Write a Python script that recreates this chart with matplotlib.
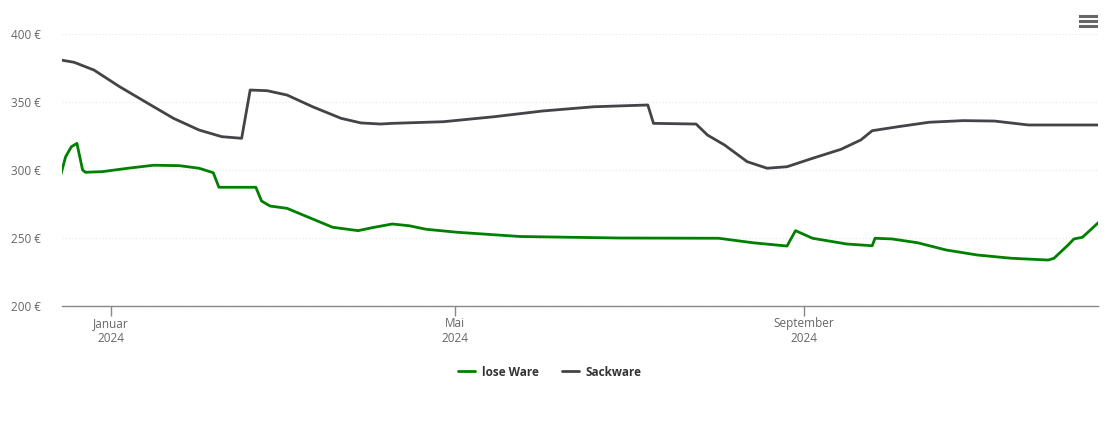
import matplotlib
matplotlib.use("Agg")
import matplotlib.pyplot as plt
import pandas as pd

plt.rcParams['font.family'] = ['Open Sans', 'DejaVu Sans']

# Sackware (grau)
sack_dates = ["2023-12-14", "2023-12-19", "2023-12-26", "2024-01-04", "2024-01-14",
              "2024-01-23", "2024-02-01", "2024-02-09", "2024-02-16", "2024-02-19",
              "2024-02-25", "2024-03-03", "2024-03-12", "2024-03-22", "2024-03-29",
              "2024-04-05", "2024-04-09", "2024-04-27", "2024-05-15", "2024-06-01",
              "2024-06-19", "2024-07-08", "2024-07-10", "2024-07-25", "2024-07-29",
              "2024-08-04", "2024-08-12", "2024-08-19", "2024-08-26", "2024-09-04",
              "2024-09-14", "2024-09-21", "2024-09-25", "2024-10-04", "2024-10-15",
              "2024-10-27", "2024-11-07", "2024-11-19", "2024-12-14"]
sack_prices = [381.0, 379.2, 373.5, 361.3, 349.0,
               338.0, 329.4, 324.5, 323.3, 358.8,
               358.3, 355.1, 346.5, 338.0, 334.6,
               333.8, 334.3, 335.5, 339.2, 343.4,
               346.5, 347.8, 334.3, 333.8, 325.7,
               318.4, 306.1, 301.3, 302.4, 308.6,
               315.2, 322.1, 328.9, 331.8, 335.1,
               336.3, 336.0, 333.1, 333.1]

# lose Ware (grün)
lose_dates = ["2023-12-14", "2023-12-16", "2023-12-18", "2023-12-20", "2023-12-22",
              "2023-12-23", "2023-12-29", "2024-01-07", "2024-01-16", "2024-01-25",
              "2024-02-01", "2024-02-06", "2024-02-08", "2024-02-21", "2024-02-23",
              "2024-02-26", "2024-03-03", "2024-03-10", "2024-03-19", "2024-03-28",
              "2024-04-02", "2024-04-09", "2024-04-15", "2024-04-21", "2024-05-02",
              "2024-05-24", "2024-06-28", "2024-08-02", "2024-08-14", "2024-08-26",
              "2024-08-29", "2024-09-04", "2024-09-16", "2024-09-25", "2024-09-26",
              "2024-10-02", "2024-10-11", "2024-10-21", "2024-11-01", "2024-11-13",
              "2024-11-26", "2024-11-28", "2024-12-03", "2024-12-05", "2024-12-08",
              "2024-12-14"]
lose_prices = [294.0, 309.6, 317.0, 319.6, 300.0,
               298.3, 298.8, 301.3, 303.5, 303.2,
               301.3, 298.0, 287.3, 287.3, 277.2,
               273.5, 271.8, 265.7, 257.9, 255.4,
               257.6, 260.3, 259.0, 256.4, 254.2,
               251.1, 250.0, 249.8, 246.5, 244.1,
               255.4, 249.8, 245.6, 244.3, 249.8,
               249.3, 246.5, 241.2, 237.5, 235.1,
               233.8, 235.1, 244.9, 249.3, 250.5,
               262.0]

y_ticks = [200, 250, 300, 350, 400]
x_ticks = ["2024-01-01", "2024-05-01", "2024-09-01"]
x_tick_labels = ["Januar\n2024", "Mai\n2024", "September\n2024"]

fig = plt.figure(figsize=(11.1, 4.22), dpi=100)
ax = fig.add_axes([62 / 1110, 1 - 306 / 422, (1098 - 62) / 1110, (306 - 34) / 422])

ax.plot(pd.to_datetime(lose_dates), lose_prices, color='#008000', lw=2.0,
        label='lose Ware', solid_joinstyle='round', solid_capstyle='round')
ax.plot(pd.to_datetime(sack_dates), sack_prices, color='#434348', lw=2.0,
        label='Sackware', solid_joinstyle='round', solid_capstyle='round')

ax.set_xlim(pd.Timestamp("2023-12-14 18:00"), pd.Timestamp("2024-12-13 12:00"))
ax.set_ylim(200, 400)

ax.set_yticks(y_ticks)
ax.set_yticklabels([f"{v} €" for v in y_ticks])
ax.set_xticks(pd.to_datetime(x_ticks))
ax.set_xticklabels(x_tick_labels)

ax.grid(axis='y', color='#e6e6e6', linestyle=(0, (1, 2)), lw=0.8)
ax.set_axisbelow(True)

for side in ['top', 'right', 'left']:
    ax.spines[side].set_visible(False)
ax.spines['bottom'].set_color('#888888')
ax.spines['bottom'].set_linewidth(1.0)

ax.tick_params(axis='y', length=0, pad=15, labelsize=8.5, labelcolor='#666666')
ax.tick_params(axis='x', length=7, width=1, color='#888888', pad=1,
               labelsize=8.5, labelcolor='#666666')

leg = fig.legend(loc='center', bbox_to_anchor=(550 / 1110, 1 - 372 / 422), ncol=2,
                 frameon=False, fontsize=8.5, handlelength=1.4, columnspacing=2.0,
                 handletextpad=0.6)
for t in leg.get_texts():
    t.set_color('#333333')
    t.set_fontweight('bold')

# Menü-Symbol oben rechts
for yy in [16, 21, 26]:
    fig.add_artist(plt.Line2D([1080 / 1110, 1096 / 1110], [1 - yy / 422] * 2,
                              color='#666666', lw=2.2))

fig.savefig("out.png", dpi=100)
